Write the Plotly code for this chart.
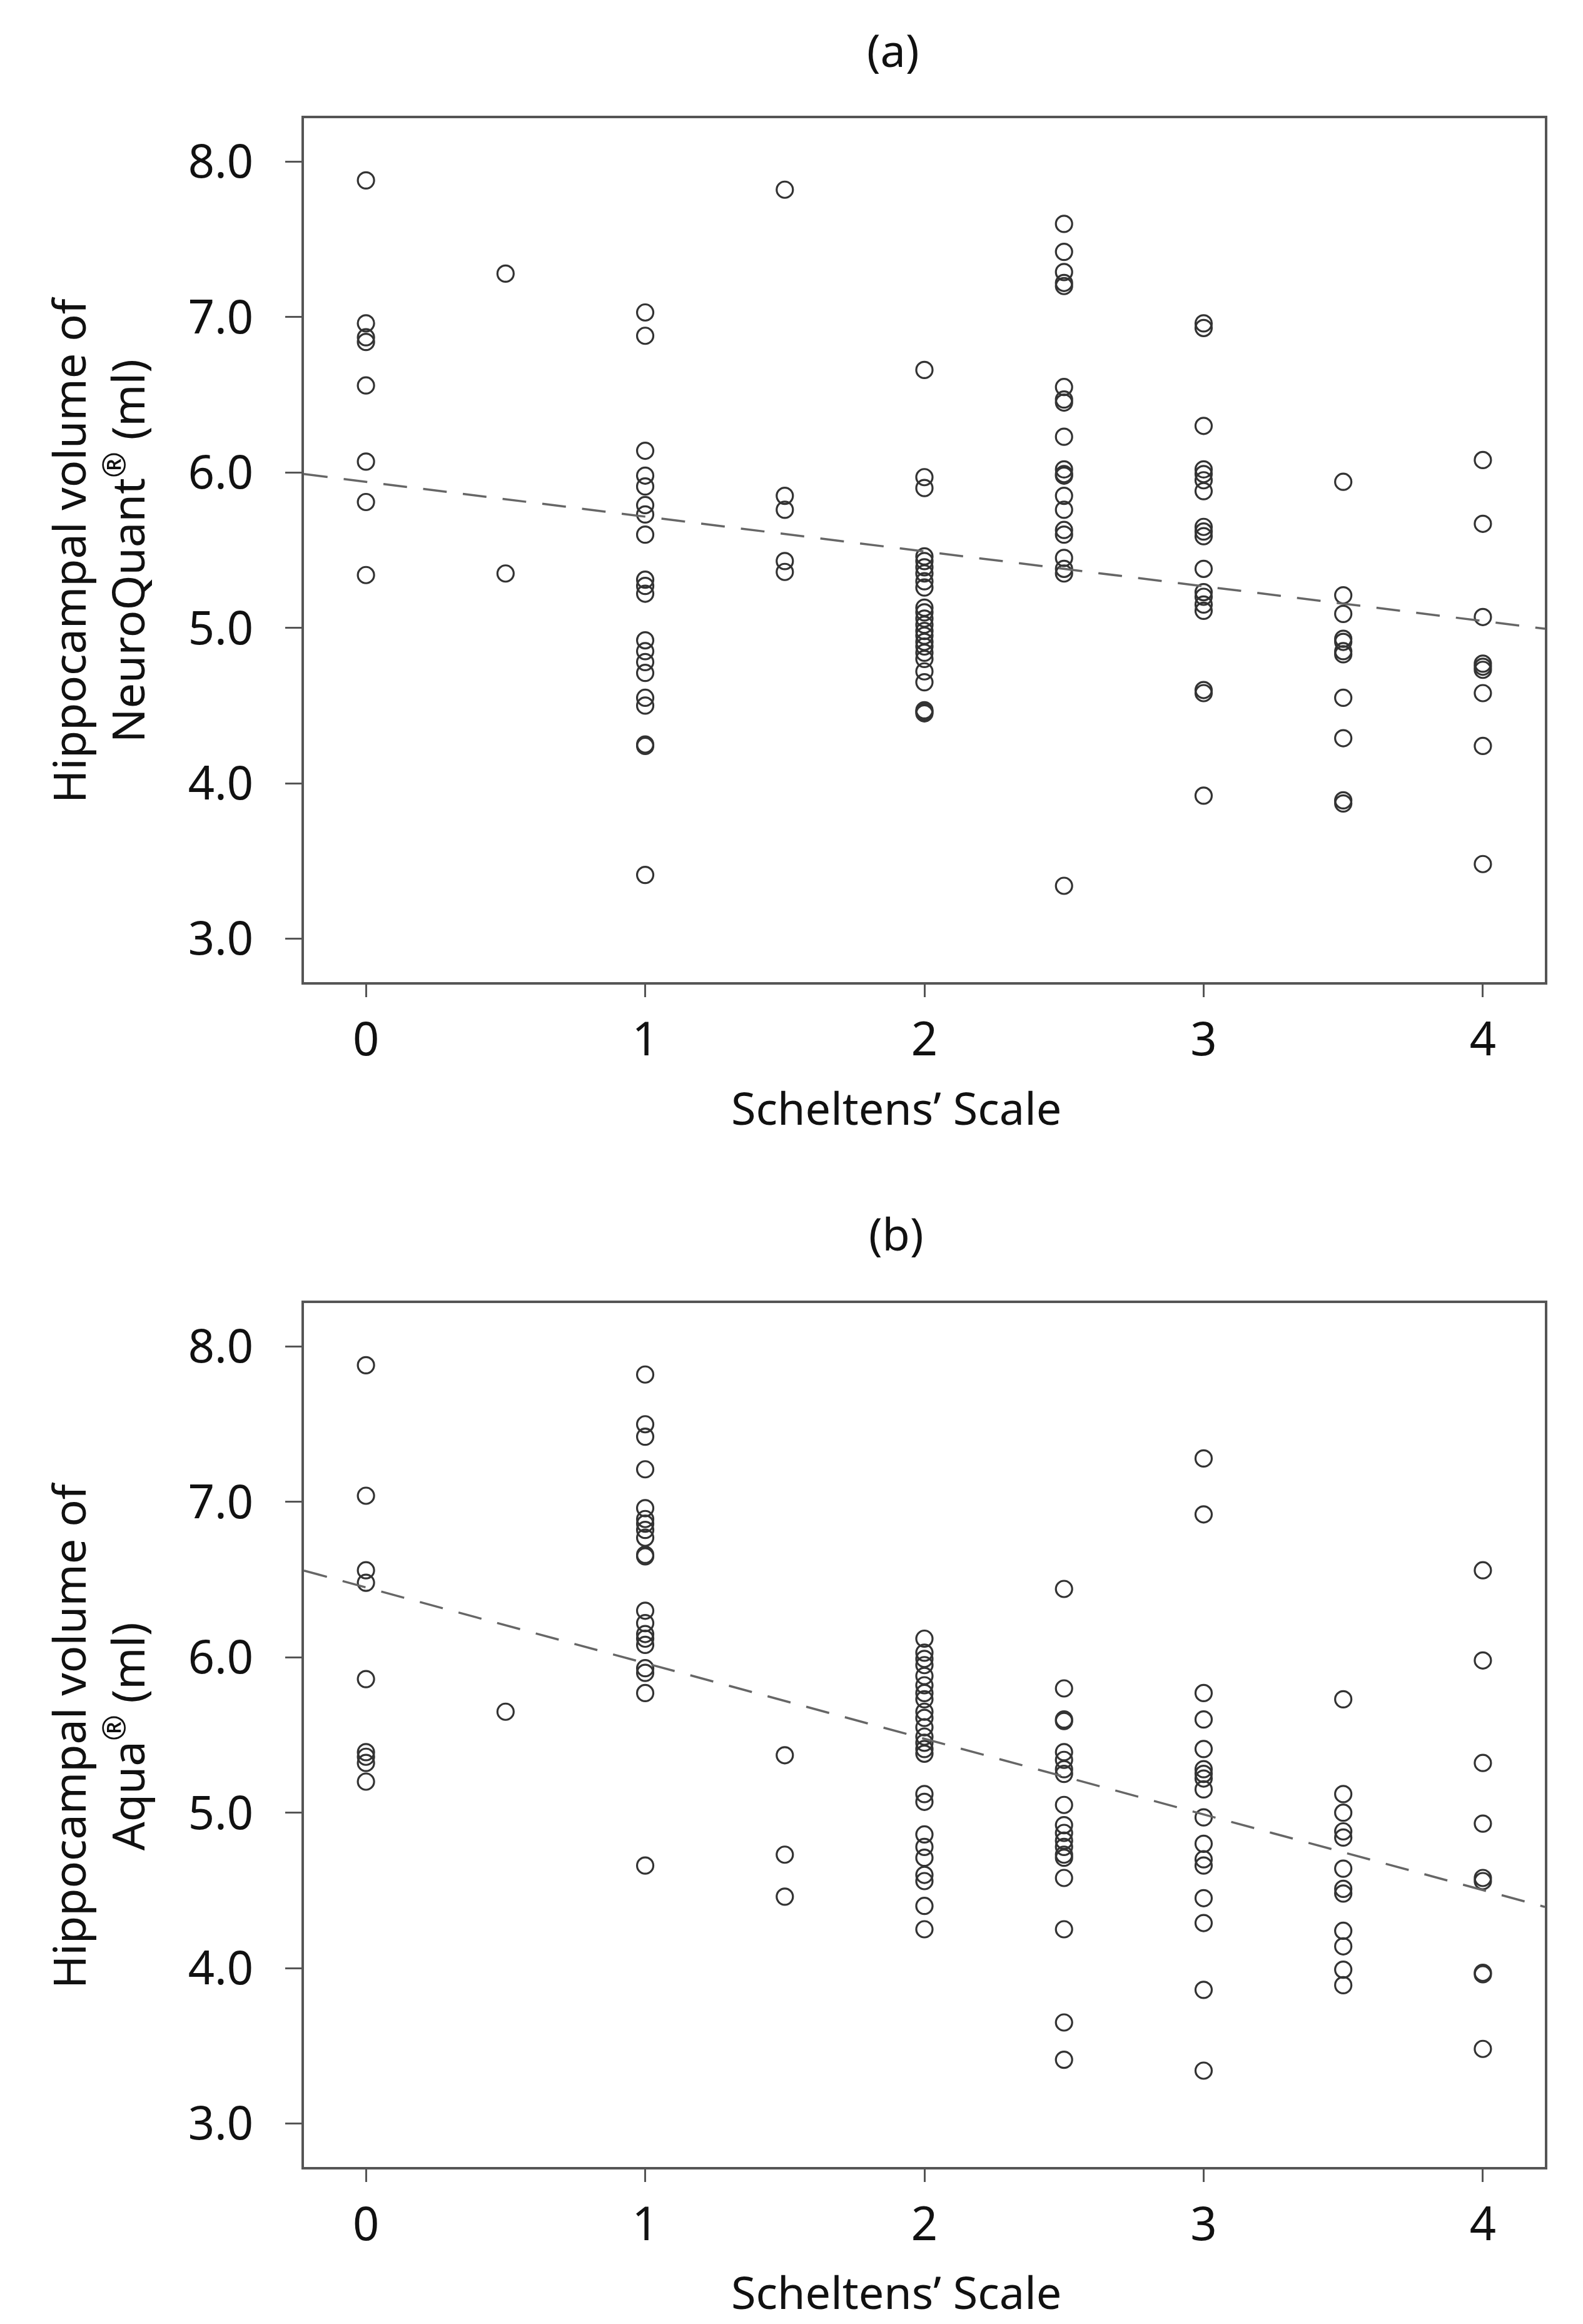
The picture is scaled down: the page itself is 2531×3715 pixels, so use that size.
import plotly.graph_objects as go
from plotly.subplots import make_subplots

# Scheltens' scale levels (x) and hippocampal volumes (ml) read per level
scheltens_levels = [0, 0.5, 1, 1.5, 2, 2.5, 3, 3.5, 4]

neuroquant_vol = [
    [7.88, 6.96, 6.87, 6.84, 6.56, 6.07, 5.81, 5.34],
    [7.28, 5.35],
    [7.03, 6.88, 6.14, 5.98, 5.91, 5.79, 5.73, 5.60, 5.31, 5.27, 5.22, 4.92, 4.85,
     4.78, 4.71, 4.55, 4.50, 4.25, 4.24, 3.41],
    [7.82, 5.85, 5.76, 5.43, 5.36],
    [6.66, 5.97, 5.90, 5.46, 5.43, 5.39, 5.35, 5.30, 5.26, 5.13, 5.10, 5.06, 5.02,
     4.98, 4.95, 4.91, 4.88, 4.84, 4.80, 4.72, 4.65, 4.47, 4.46, 4.45],
    [7.60, 7.42, 7.29, 7.22, 7.20, 6.55, 6.47, 6.45, 6.23, 6.02, 5.99, 5.98, 5.85,
     5.76, 5.63, 5.60, 5.45, 5.38, 5.35, 3.34],
    [6.96, 6.93, 6.30, 6.02, 5.99, 5.95, 5.88, 5.65, 5.62, 5.59, 5.38, 5.23, 5.20,
     5.15, 5.11, 4.60, 4.58, 3.92],
    [5.94, 5.21, 5.09, 4.93, 4.91, 4.85, 4.83, 4.55, 4.29, 3.89, 3.87],
    [6.08, 5.67, 5.07, 4.77, 4.75, 4.73, 4.58, 4.24, 3.48],
]

aqua_vol = [
    [7.88, 7.04, 6.56, 6.48, 5.86, 5.39, 5.36, 5.32, 5.20],
    [5.65],
    [7.82, 7.50, 7.42, 7.21, 6.96, 6.89, 6.86, 6.82, 6.77, 6.66, 6.65, 6.30, 6.22,
     6.15, 6.12, 6.08, 5.93, 5.90, 5.77, 4.66],
    [5.37, 4.73, 4.46],
    [6.12, 6.03, 5.99, 5.95, 5.88, 5.82, 5.77, 5.73, 5.65, 5.61, 5.55, 5.49, 5.45,
     5.41, 5.38, 5.12, 5.07, 4.86, 4.78, 4.71, 4.60, 4.56, 4.40, 4.25],
    [6.44, 5.80, 5.60, 5.59, 5.39, 5.34, 5.28, 5.25, 5.05, 4.92, 4.87, 4.82, 4.78,
     4.73, 4.71, 4.58, 4.25, 3.65, 3.41],
    [7.28, 6.92, 5.77, 5.60, 5.41, 5.28, 5.25, 5.22, 5.15, 4.97, 4.80, 4.70, 4.66,
     4.45, 4.29, 3.86, 3.34],
    [5.73, 5.12, 5.00, 4.88, 4.84, 4.64, 4.51, 4.48, 4.24, 4.14, 3.99, 3.89],
    [6.56, 5.98, 5.32, 4.93, 4.58, 4.56, 3.97, 3.96, 3.48],
]

# fitted lines (intercept, slope) as drawn in the figure
fit_neuroquant = (5.94, -0.224)
fit_aqua = (6.45, -0.487)

x_ticks = [0, 1, 2, 3, 4]
y_ticks = [3, 4, 5, 6, 7, 8]
x_range = [-0.222, 4.222]
y_range = [2.72, 8.28]

font_family = "Noto Sans"
text_color = "#111111"
frame_color = "#555555"

W, H = 2531, 3715

fig = make_subplots(rows=2, cols=1)


def add_panel(fig, vols, fit, row):
    xs, ys = [], []
    for lvl, v in zip(scheltens_levels, vols):
        xs += [lvl] * len(v)
        ys += v
    fig.add_trace(go.Scatter(x=xs, y=ys, mode="markers",
                             marker=dict(symbol="circle-open", size=26, color="#333333",
                                         line=dict(width=3.2, color="#333333")),
                             showlegend=False), row=row, col=1)
    b0, b1 = fit
    fig.add_trace(go.Scatter(x=x_range, y=[b0 + b1 * x for x in x_range], mode="lines",
                             line=dict(color="#666666", width=3.5, dash="38px,26px"),
                             showlegend=False), row=row, col=1)


add_panel(fig, neuroquant_vol, fit_neuroquant, 1)
add_panel(fig, aqua_vol, fit_aqua, 2)

axis_common = dict(showgrid=False, zeroline=False, showline=True, mirror=True,
                   linecolor=frame_color, linewidth=4, ticks="outside",
                   tickcolor=frame_color, tickwidth=3,
                   tickfont=dict(family=font_family, size=74, color=text_color))

fig.update_xaxes(**axis_common, range=x_range, tickvals=x_ticks, ticklen=20,
                 ticklabelstandoff=4)
fig.update_yaxes(**axis_common, range=y_range, tickvals=y_ticks, tickformat=".1f",
                 ticklen=26, ticklabelstandoff=36)

xdom = [478 / W, 2462 / W]
fig.update_layout(
    xaxis=dict(domain=xdom), xaxis2=dict(domain=xdom),
    yaxis=dict(domain=[1 - 1562 / H, 1 - 181 / H]),
    yaxis2=dict(domain=[1 - 3456 / H, 1 - 2075 / H]),
)

ann_font = dict(family=font_family, size=72, color=text_color)
labels = [
    ("(a)", 1420, 71, 0),
    ("Scheltens\u2019 Scale", 1425, 1762, 0),
    ("(b)", 1424, 1963, 0),
    ("Scheltens\u2019 Scale", 1425, 3655, 0),
    ("Hippocampal volume of<br>NeuroQuant<sup>\u00ae</sup> (ml)", 148, 871, -90),
    ("Hippocampal volume of<br>Aqua<sup>\u00ae</sup> (ml)", 148, 2766, -90),
]
for text, px, py, ang in labels:
    fig.add_annotation(text=text, x=px / W, y=1 - py / H, xref="paper", yref="paper",
                       showarrow=False, xanchor="center", yanchor="middle",
                       textangle=ang, font=ann_font)

fig.update_layout(width=W, height=H, margin=dict(l=0, r=0, t=0, b=0),
                  paper_bgcolor="white", plot_bgcolor="white")

fig.write_html("out.html")
